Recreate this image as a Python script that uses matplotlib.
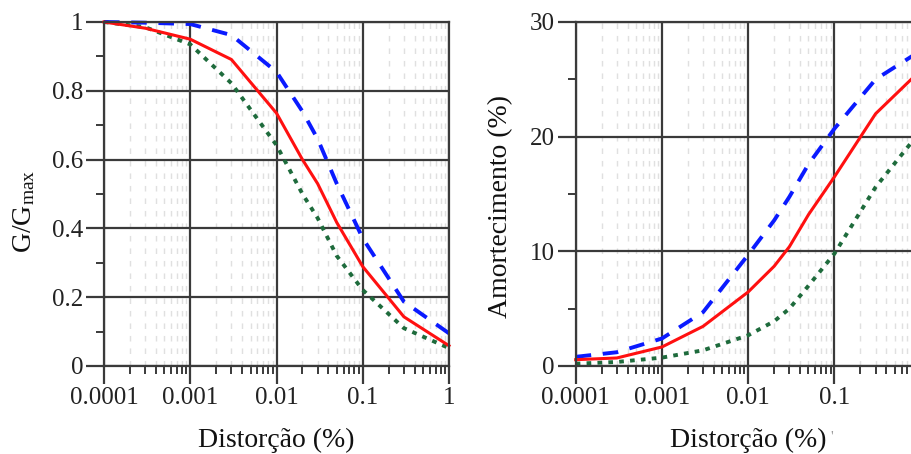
import numpy as np
import matplotlib
matplotlib.use("Agg")
import matplotlib.pyplot as plt
from matplotlib.ticker import FixedLocator, LogLocator, NullFormatter

plt.rcParams['font.family'] = ['Liberation Serif', 'DejaVu Serif']
plt.rcParams['mathtext.fontset'] = 'custom'
plt.rcParams['mathtext.rm'] = 'Liberation Serif'
plt.rcParams['mathtext.it'] = 'Liberation Serif:italic'

# shear strain (%)
strain = [0.0001, 0.0003, 0.001, 0.003, 0.01, 0.02, 0.03, 0.05, 0.1, 0.3, 1.0]

# modulus reduction G/Gmax
g_red = [1.0, 0.982, 0.95, 0.891, 0.735, 0.60, 0.53, 0.417, 0.289, 0.143, 0.059]
g_blue = [1.0, 0.998, 0.994, 0.962, 0.855, 0.74, 0.66, 0.53, 0.371, 0.187, 0.095]
g_green = [1.0, 0.985, 0.935, 0.822, 0.642, 0.50, 0.43, 0.32, 0.221, 0.11, 0.052]

# damping (%)
d_red = [0.55, 0.7, 1.66, 3.46, 6.46, 8.7, 10.4, 13.2, 16.5, 22.0, 25.8]
d_blue = [0.8, 1.2, 2.4, 4.7, 9.7, 12.7, 14.75, 17.6, 20.7, 25.0, 27.5]
d_green = [0.2, 0.35, 0.73, 1.37, 2.68, 3.9, 5.0, 7.0, 9.8, 15.6, 20.5]

x_ticks = [0.0001, 0.001, 0.01, 0.1, 1]
x_labels = ['0.0001', '0.001', '0.01', '0.1', '1']

fig = plt.figure(figsize=(9.12, 4.54), dpi=100)
ax1 = fig.add_axes([104 / 912, 88 / 454, 345 / 912, 344 / 454])
ax2 = fig.add_axes([575.7 / 912, 88 / 454, 345 / 912, 344 / 454])


def style_axis(ax, ymax, ymajor, yminor, ylabels, xlabels):
    ax.set_xscale('log')
    ax.set_xlim(0.0001, 1)
    ax.set_ylim(0, ymax)
    ax.xaxis.set_major_locator(FixedLocator(x_ticks))
    ax.set_xticklabels(xlabels)
    ax.xaxis.set_minor_locator(LogLocator(base=10, subs=np.arange(2, 10)))
    ax.xaxis.set_minor_formatter(NullFormatter())
    ax.set_yticks(ymajor)
    ax.set_yticklabels(ylabels)
    ax.yaxis.set_minor_locator(FixedLocator(yminor))
    # light dashed minor verticals
    ax.grid(True, which='minor', axis='x', color='#e0e0e0', lw=1.0,
            linestyle=(0, (4, 5)))
    ax.grid(True, which='major', color='#3a3a3a', lw=1.6)
    ax.set_axisbelow(True)
    for s in ax.spines.values():
        s.set_color('#3a3a3a')
        s.set_linewidth(1.6)
    ax.tick_params(which='major', direction='out', length=13, width=1.6,
                   color='#3a3a3a', labelsize=18, pad=2, labelcolor='#222222')
    ax.tick_params(which='minor', direction='out', length=6, width=1.4,
                   color='#3a3a3a')
    ax.set_xlabel('Distorção (%)', fontsize=20, labelpad=14, color='#111111')


style_axis(ax1, 1, [0, 0.2, 0.4, 0.6, 0.8, 1],
           [0.1, 0.3, 0.5, 0.7, 0.9],
           ['0', '0.2', '0.4', '0.6', '0.8', '1'], x_labels)
ax1.plot(strain, g_green, color='#1e6b3c', lw=2.8, linestyle=(0, (1.2, 1.6)),
         clip_on=False)
ax1.plot(strain, g_blue, color='#0a1aff', lw=2.8, linestyle=(0, (4, 3)),
         clip_on=False)
ax1.plot(strain, g_red, color='#ff1010', lw=2.2, clip_on=False)
ax1.set_ylabel(r'G/G$_{\mathrm{max}}$', fontsize=20, color='#111111')
ax1.yaxis.set_label_coords(-0.195, 0.45)

# the '1' label of the right panel falls outside the picture
style_axis(ax2, 30, [0, 10, 20, 30], [5, 15, 25], ['0', '10', '20', '30'],
           x_labels[:-1] + [''])
ax2.plot(strain, d_green, color='#1e6b3c', lw=2.8, linestyle=(0, (1.2, 1.6)),
         clip_on=False)
ax2.plot(strain, d_blue, color='#0a1aff', lw=2.8, linestyle=(0, (4, 3)),
         clip_on=False)
ax2.plot(strain, d_red, color='#ff1010', lw=2.2, clip_on=False)
ax2.set_ylabel('Amortecimento (%)', fontsize=20, color='#111111')
ax2.yaxis.set_label_coords(-0.182, 0.465)

fig.text(832 / 912, 1 - 437 / 454, "'", fontsize=11, color='#999999',
         ha='center', va='center')

fig.savefig('out.png', dpi=100)
